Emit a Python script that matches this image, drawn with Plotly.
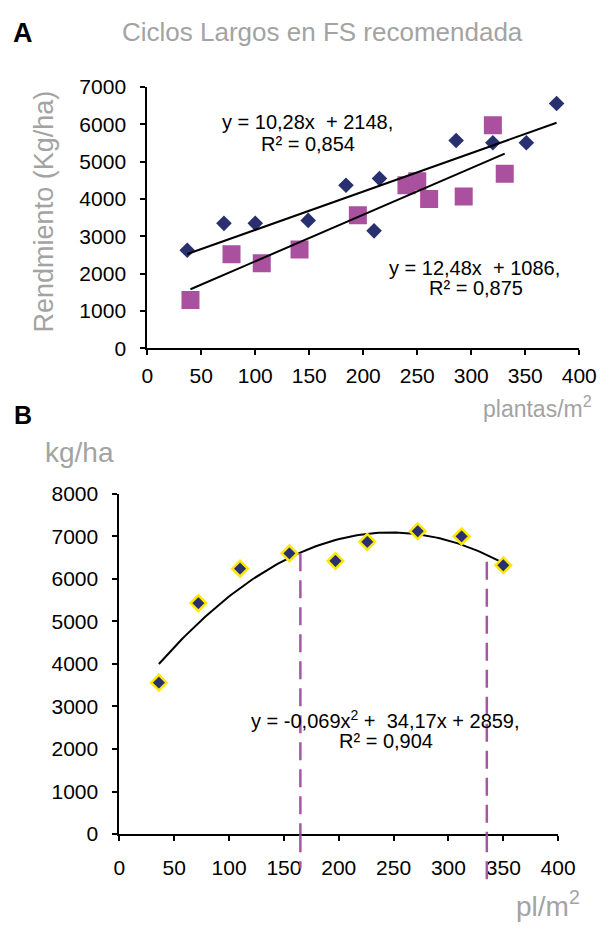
import numpy as np
import plotly.graph_objects as go

W, H = 616, 929

# ---------------- data ----------------
# Panel A
a_blue_x = [37, 71, 100, 149, 184, 210, 215, 286, 320, 351, 379]
a_blue_y = [2630, 3350, 3350, 3430, 4370, 3150, 4550, 5570, 5510, 5510, 6560]
a_pink_x = [40, 78, 106, 141, 195, 240, 250, 261, 293, 320, 331]
a_pink_y = [1300, 2520, 2280, 2650, 3570, 4370, 4480, 4000, 4070, 5980, 4680]
a_blue_fit = (10.28, 2148)   # slope, intercept
a_pink_fit = (12.48, 1086)

# Panel B
b_x = [36, 72, 110, 155, 197, 226, 272, 312, 350]
b_y = [3560, 5430, 6240, 6600, 6420, 6870, 7120, 7000, 6320]
b_fit = (-0.069, 34.17, 2859)  # a, b, c
b_vline_x = [165, 335]
b_vline_top = [6600, 6400]

a_x_ticks = list(range(0, 401, 50))
a_y_ticks = list(range(0, 7001, 1000))
b_x_ticks = list(range(0, 401, 50))
b_y_ticks = list(range(0, 8001, 1000))

FONT = "Arial, Liberation Sans, sans-serif"
NAVY = "#29306F"
PINK = "#A9509F"
YELLOW = "#FFE800"
DASH = "#A855A5"
GRAY = "#A3A3A3"


def pxx(x):
    return x / W


def pxy(y):
    return 1 - y / H


fig = go.Figure()

# Panel A markers
fig.add_trace(go.Scatter(x=a_blue_x, y=a_blue_y, mode="markers", xaxis="x", yaxis="y",
                         marker=dict(symbol="diamond", size=12, color=NAVY)))
fig.add_trace(go.Scatter(x=a_pink_x, y=a_pink_y, mode="markers", xaxis="x", yaxis="y",
                         marker=dict(symbol="square", size=18, color=PINK)))
# Panel A trend lines
for xs, (m, c) in ((a_blue_x, a_blue_fit), (a_pink_x, a_pink_fit)):
    lx = np.array([min(xs), max(xs)], dtype=float)
    fig.add_trace(go.Scatter(x=lx, y=m * lx + c, mode="lines", xaxis="x", yaxis="y",
                             line=dict(color="black", width=2)))

# Panel B curve
cx = np.linspace(min(b_x), max(b_x), 120)
ca, cb, cc = b_fit
fig.add_trace(go.Scatter(x=cx, y=ca * cx ** 2 + cb * cx + cc, mode="lines",
                         xaxis="x2", yaxis="y2", line=dict(color="black", width=2)))
fig.add_trace(go.Scatter(x=b_x, y=b_y, mode="markers", xaxis="x2", yaxis="y2",
                         marker=dict(symbol="diamond", size=12, color=NAVY,
                                     line=dict(color=YELLOW, width=2.5))))

axis_common = dict(showline=True, linecolor="black", linewidth=2, ticks="outside",
                   ticklen=5, tickwidth=2, tickcolor="black", showgrid=False,
                   zeroline=False, tickfont=dict(family=FONT, size=21, color="black"))

fig.update_layout(
    width=W, height=H, margin=dict(l=0, r=0, t=0, b=0),
    paper_bgcolor="white", plot_bgcolor="white", showlegend=False,
    font=dict(family=FONT),
    xaxis=dict(domain=[pxx(147), pxx(596.5)], anchor="y", range=[0, 400],
               tickvals=a_x_ticks, ticklabelstandoff=2, **axis_common),
    yaxis=dict(domain=[pxy(345), pxy(77)], anchor="x", range=[0, 7000],
               tickvals=a_y_ticks, ticklabelstandoff=10, **axis_common),
    xaxis2=dict(domain=[pxx(118), pxx(574.5)], anchor="y2", range=[0, 400],
                tickvals=b_x_ticks, ticklabelstandoff=9, **axis_common),
    yaxis2=dict(domain=[pxy(843), pxy(494)], anchor="x2", range=[0, 8000],
                tickvals=b_y_ticks, ticklabelstandoff=10, **axis_common),
)

# dashed verticals in panel B (data part + extension below the axis)
ext = [-0.10, -0.145]
for vx, top, e in zip(b_vline_x, b_vline_top, ext):
    fig.add_shape(type="line", xref="x2", yref="y2", x0=vx, x1=vx, y0=top, y1=0,
                  line=dict(color=DASH, width=2.5, dash="18px,9px"), layer="above")
    fig.add_shape(type="line", xref="x2", yref="y2 domain", x0=vx, x1=vx, y0=0, y1=e,
                  line=dict(color=DASH, width=2.5, dash="18px,9px"), layer="above")


def ann(text, x, y, size, color="black", xanchor="center", yanchor="middle", angle=0):
    fig.add_annotation(text=text, x=pxx(x), y=pxy(y), xref="paper", yref="paper",
                       xanchor=xanchor, yanchor=yanchor, showarrow=False, textangle=angle,
                       font=dict(family=FONT, size=size, color=color))


NB = "\u00a0"
ann("<b>A</b>", 5, 22, 27, xanchor="left")
ann("Ciclos Largos en FS recomendada", 329, 20, 26, color=GRAY)
ann("Rendmiento (Kg/ha)", 39, 204, 27, color=GRAY, angle=-90)
ann(f"y = 10,28x{NB} + 2148,", 314, 113, 20)
ann("R² = 0,854", 314, 135, 20)
ann(f"y = 12,48x{NB} + 1086,", 488, 262, 20)
ann("R² = 0,875", 489, 283, 20)
ann("plantas/m<sup>2</sup>", 612, 405, 23, color=GRAY, xanchor="right")
ann("<b>B</b>", 6, 413, 25, xanchor="left")
ann("kg/ha", 38, 452, 28, color=GRAY, xanchor="left")
ann(f"y = -0,069x<sup>2</sup> +{NB} 34,17x + 2859,", 395, 725, 20)
ann("R² = 0,904", 395, 748, 20)
ann("pl/m<sup>2</sup>", 599, 915, 28, color=GRAY, xanchor="right")

fig.write_html(
    "out.html",
    config={"displayModeBar": False},
    post_script=("document.body.style.margin='0';"
                 "document.documentElement.style.overflow='hidden';"
                 "document.body.style.overflow='hidden';"),
)
